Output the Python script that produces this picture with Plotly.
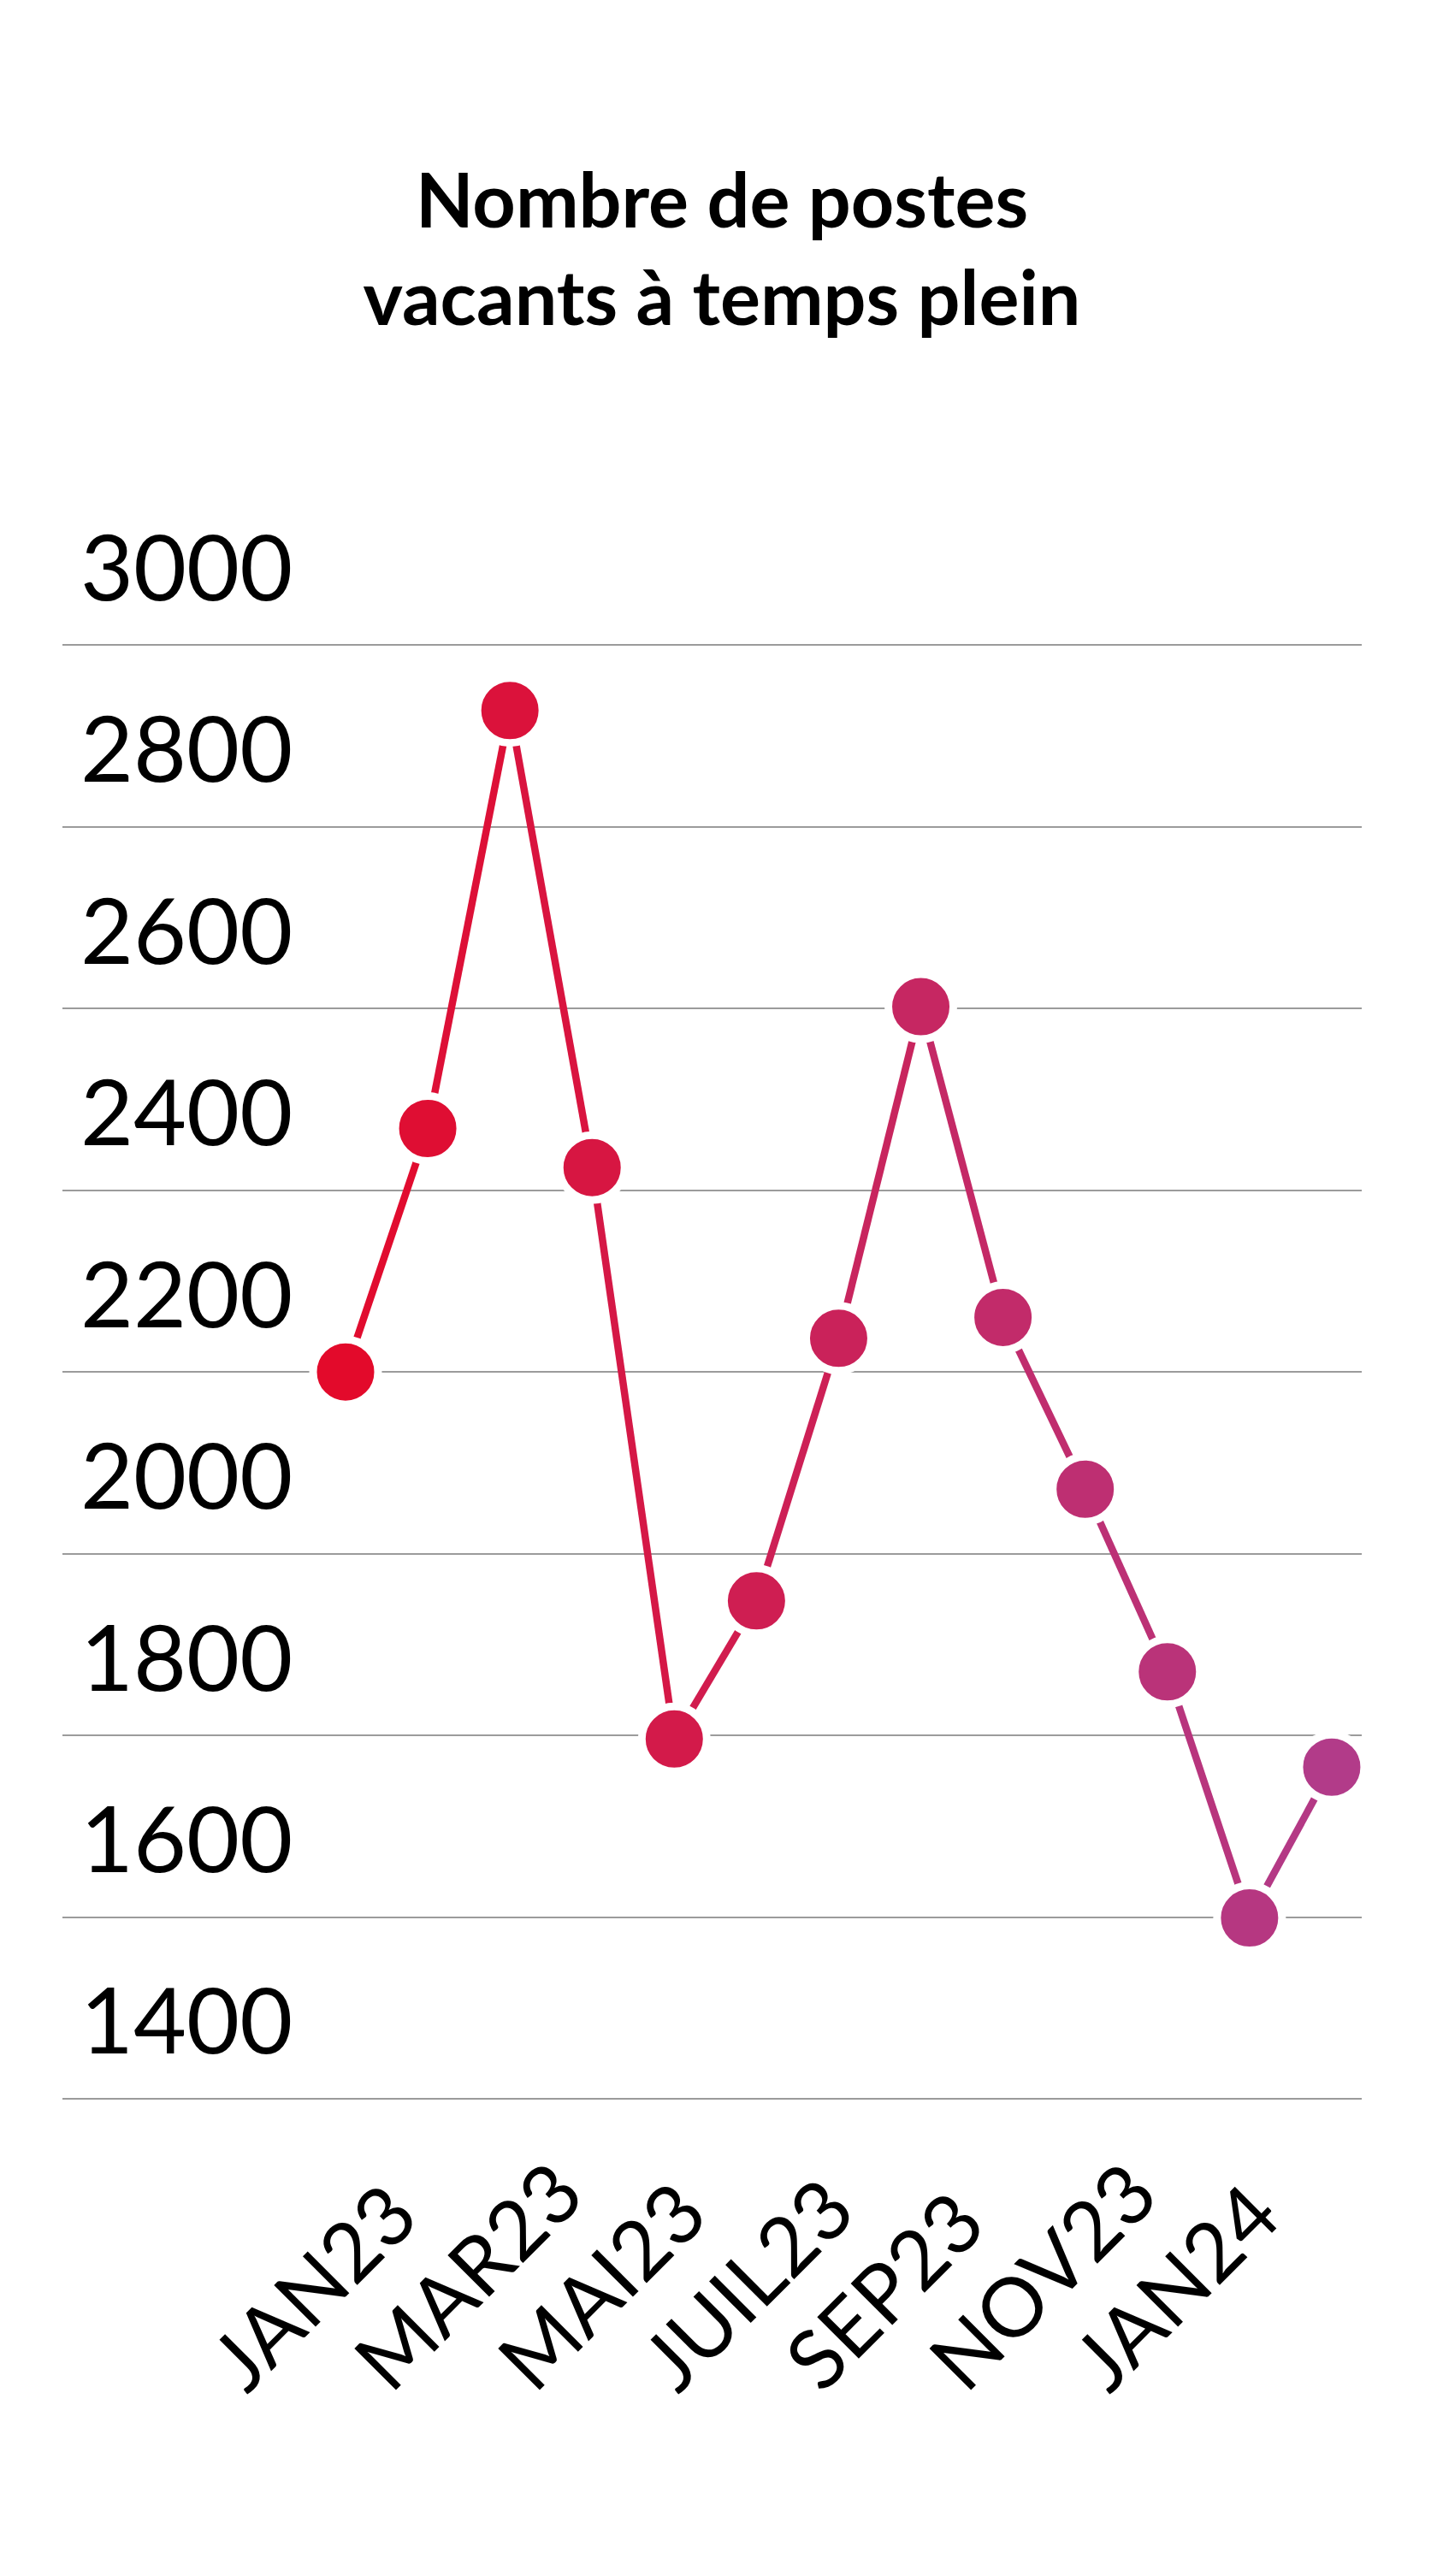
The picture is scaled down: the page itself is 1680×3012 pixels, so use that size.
import plotly.graph_objects as go

# ---- data ----
months = ["JAN23", "FEV23", "MAR23", "AVR23", "MAI23", "JUIN23", "JUIL23",
          "AOUT23", "SEP23", "OCT23", "NOV23", "DEC23", "JAN24"]
postes = [2200, 2468, 2928, 2425, 1796, 1948, 2237, 2602, 2260, 2071, 1870, 1599, 1765]
tick_labels = ["JAN23", "MAR23", "MAI23", "JUIL23", "SEP23", "NOV23", "JAN24"]
y_ticks = [1400, 1600, 1800, 2000, 2200, 2400, 2600, 2800, 3000]
title_lines = ["Nombre de postes", "vacants à temps plein"]

# ---- style ----
# the page body has an 8px default margin, so the figure is 8px smaller
W, H = 1672, 3004
c_start = (227, 10, 43)
c_end = (178, 59, 137)
n = len(months)


def mix(t):
    return "rgb(%d,%d,%d)" % tuple(round(a + (b - a) * t) for a, b in zip(c_start, c_end))


point_colors = [mix(i / (n - 1)) for i in range(n)]
seg_colors = [mix((i + 0.5) / (n - 1)) for i in range(n - 1)]

FONT = "Lato"

fig = go.Figure()

# line segments (one colour each, gradient along the series)
for i in range(n - 1):
    fig.add_trace(go.Scatter(
        x=months[i:i + 2], y=postes[i:i + 2], mode="lines",
        line=dict(color=seg_colors[i], width=8.5),
        hoverinfo="skip", showlegend=False, cliponaxis=False,
    ))

# markers
fig.add_trace(go.Scatter(
    x=months, y=postes, mode="markers",
    marker=dict(size=76, color=point_colors, line=dict(color="white", width=9)),
    showlegend=False, cliponaxis=False,
    hovertemplate="%{x}: %{y}<extra></extra>",
))

# dummy trace for the label axis
fig.add_trace(go.Scatter(
    x=tick_labels, y=[None] * len(tick_labels), xaxis="x2", yaxis="y",
    mode="markers", showlegend=False, hoverinfo="skip",
))

m_t, m_b = 741, 150
plot_bottom = H - m_b
plot_h = plot_bottom - m_t
y_dom_bottom = (plot_bottom - 2451.3) / plot_h
lab_pos = (plot_bottom - 2826) / plot_h

fig.update_layout(
    width=W, height=H,
    paper_bgcolor="white", plot_bgcolor="white",
    margin=dict(l=65, r=88, t=m_t, b=m_b),
    title=dict(
        text="<b>" + "<br>".join(title_lines) + "</b>",
        x=0.5, xref="container", xanchor="center",
        y=1 - 258 / H, yref="container", yanchor="top",
        font=dict(family=FONT, size=88, color="black"),
    ),
    xaxis=dict(
        type="category", categoryorder="array", categoryarray=months,
        range=[-3.445, 12.365], showticklabels=False, showgrid=False,
        zeroline=False, showline=False, ticks="",
    ),
    xaxis2=dict(
        type="category", categoryorder="array", categoryarray=tick_labels,
        overlaying="x", side="top", anchor="free", position=lab_pos,
        range=[-1.082, 7.958], showgrid=False, zeroline=False, showline=False,
        ticks="", tickangle=-45,
        tickfont=dict(family=FONT, size=96, color="black"),
    ),
    yaxis=dict(
        domain=[y_dom_bottom, 1], range=[1395, 3005],
        tickvals=y_ticks, ticks="", showline=False, zeroline=False,
        showgrid=True, gridcolor="#9b9b9b", gridwidth=2,
        ticklabelposition="inside", ticklabelshift=-90, ticklabelstandoff=18,
        ticklabeloverflow="allow",
        tickfont=dict(family=FONT, size=107, color="black"),
    ),
)

fig.write_html("out.html")
